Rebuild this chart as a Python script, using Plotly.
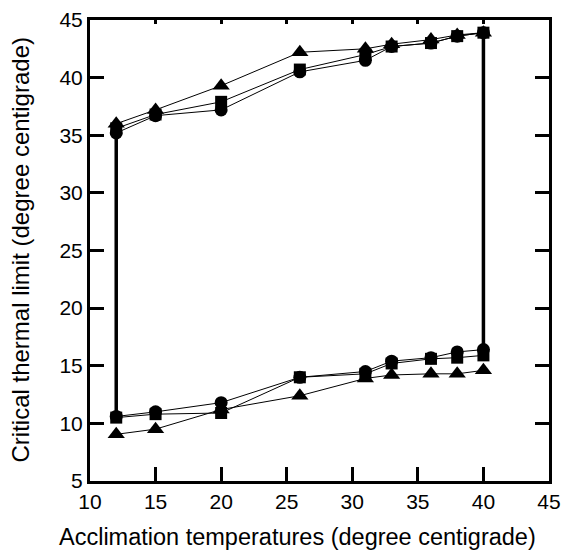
import plotly.graph_objects as go

temps = [12, 15, 20, 26, 31, 33, 36, 38, 40]

# Critical thermal maximum (upper) series
ctmax_triangle = [36.0, 37.2, 39.3, 42.2, 42.5, 42.9, 43.3, 43.7, 43.9]
ctmax_square = [35.6, 36.8, 37.9, 40.7, 42.0, 42.7, 43.0, 43.6, 43.9]
ctmax_circle = [35.2, 36.7, 37.2, 40.5, 41.5, 42.7, 43.0, 43.6, 43.9]

# Critical thermal minimum (lower) series
ctmin_triangle = [9.05, 9.5, 11.2, 12.4, 13.9, 14.2, 14.3, 14.3, 14.6]
ctmin_square = [10.5, 10.8, 10.9, 14.0, 14.3, 15.2, 15.6, 15.7, 15.9]
ctmin_circle = [10.6, 11.0, 11.8, 14.0, 14.5, 15.4, 15.7, 16.2, 16.4]

x_ticks = [10, 15, 20, 25, 30, 35, 40, 45]
y_ticks = [5, 10, 15, 20, 25, 30, 35, 40, 45]

x_title = "Acclimation temperatures (degree centigrade)"
y_title = "Critical thermal limit (degree centigrade)"

FONT = "Liberation Sans, Arial, Helvetica, sans-serif"

fig = go.Figure()

# Thick vertical closing lines of the tolerance polygon
fig.add_trace(go.Scatter(x=[temps[0], temps[0]], y=[ctmin_square[0], ctmax_square[0]],
                         mode="lines", line=dict(color="black", width=3.5), showlegend=False))
fig.add_trace(go.Scatter(x=[temps[-1], temps[-1]], y=[ctmin_square[-1], ctmax_square[-1]],
                         mode="lines", line=dict(color="black", width=3.5), showlegend=False))

series = [
    (ctmax_circle, "circle", 13),
    (ctmin_circle, "circle", 13),
    (ctmax_square, "square", 12),
    (ctmin_square, "square", 12),
    (ctmax_triangle, "triangle-up", 15),
    (ctmin_triangle, "triangle-up", 15),
]
for vals, sym, sz in series:
    fig.add_trace(go.Scatter(
        x=temps, y=vals, mode="lines+markers",
        line=dict(color="black", width=1),
        marker=dict(symbol=sym, size=sz, color="black"),
        showlegend=False, hoverinfo="x+y",
    ))

tickfont = dict(family=FONT, size=21, color="black")

fig.update_layout(
    width=561, height=551,
    margin=dict(l=90, r=12, t=20, b=70),
    paper_bgcolor="white", plot_bgcolor="white",
    font=dict(family=FONT, color="black"),
    xaxis=dict(range=[10, 45], tickvals=x_ticks, showgrid=False, zeroline=False,
               showline=True, linecolor="black", linewidth=3, mirror=True,
               ticks="inside", ticklen=14, tickwidth=3, tickcolor="black",
               tickfont=tickfont, automargin=False),
    xaxis2=dict(range=[10, 45], tickvals=x_ticks, overlaying="x", side="top",
                showgrid=False, zeroline=False, showline=False,
                ticks="inside", ticklen=4, tickwidth=3, tickcolor="black",
                showticklabels=False, automargin=False),
    yaxis=dict(range=[5, 45], tickvals=y_ticks, showgrid=False, zeroline=False,
               showline=True, linecolor="black", linewidth=3, mirror="ticks",
               ticks="inside", ticklen=14, tickwidth=3, tickcolor="black",
               tickfont=tickfont, automargin=False),
    annotations=[
        dict(text=x_title, xref="paper", yref="paper", x=0.453, y=-0.121,
             xanchor="center", yanchor="middle", showarrow=False,
             font=dict(family=FONT, size=23.5, color="black")),
        dict(text=y_title, xref="paper", yref="paper", x=-0.1525, y=0.5,
             xanchor="center", yanchor="middle", showarrow=False, textangle=-90,
             font=dict(family=FONT, size=24, color="black")),
    ],
)
# invisible trace to activate top axis ticks
fig.add_trace(go.Scatter(x=[temps[0]], y=[ctmax_square[0]], xaxis="x2", mode="markers",
                         marker=dict(opacity=0), showlegend=False, hoverinfo="skip"))

fig.write_html("out.html", config={"displayModeBar": False},
               post_script="document.body.style.margin='0';document.body.style.overflow='hidden';")
